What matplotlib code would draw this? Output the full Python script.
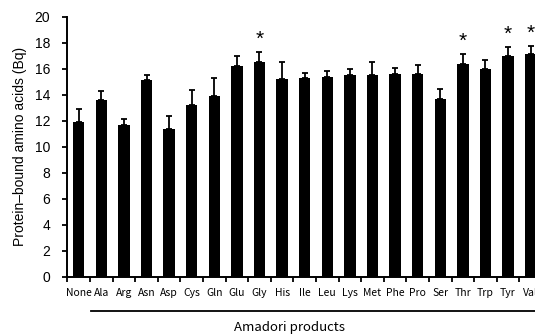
import numpy as np
import matplotlib.pyplot as plt
from matplotlib.transforms import blended_transform_factory

plt.rcParams['font.family'] = ['Noto Sans CJK JP', 'DejaVu Sans']

# data
labels = ['None', 'Ala', 'Arg', 'Asn', 'Asp', 'Cys', 'Gln', 'Glu', 'Gly', 'His', 'Ile',
          'Leu', 'Lys', 'Met', 'Phe', 'Pro', 'Ser', 'Thr', 'Trp', 'Tyr', 'Val']
means = [11.9, 13.6, 11.7, 15.1, 11.4, 13.2, 13.9, 16.2, 16.5, 15.2, 15.3,
         15.4, 15.5, 15.5, 15.6, 15.6, 13.7, 16.4, 16.0, 17.0, 17.1]
errs = [1.0, 0.7, 0.45, 0.45, 0.95, 1.2, 1.4, 0.75, 0.8, 1.35, 0.35,
        0.4, 0.45, 1.05, 0.45, 0.65, 0.75, 0.75, 0.65, 0.7, 0.65]
signif = ['Gly', 'Thr', 'Tyr', 'Val']

x = np.arange(len(labels))

fig = plt.figure(figsize=(5.35, 3.35), dpi=100)
ax = fig.add_axes([0.126, 0.174, 0.887, 0.776])

ax.bar(x, means, width=0.5, color='black', zorder=2)
# one-sided (upper) error bars
ax.errorbar(x, means, yerr=[np.zeros(len(errs)), errs], fmt='none', ecolor='black',
            elinewidth=1.3, capsize=2.5, capthick=1.3, zorder=1)

for lab, m, e in zip(labels, means, errs):
    if lab in signif:
        ax.text(labels.index(lab), m + e + 0.95, '*', ha='center', va='center',
                fontsize=15, family='Liberation Sans')

ax.set_xlim(-0.5, 20.5)
ax.set_ylim(0, 20)
ax.set_yticks(np.arange(0, 21, 2))
ax.set_yticklabels([str(v) for v in range(0, 21, 2)], family='Liberation Sans', fontsize=10)
ax.set_xticks(x)
ax.set_xticklabels(labels, fontsize=7.5)
ax.set_xticks(np.arange(-0.5, 21, 1), minor=True)
ax.tick_params(axis='x', which='major', length=0, pad=8)
ax.tick_params(axis='x', which='minor', length=3.5, width=1.3, direction='out')
ax.tick_params(axis='y', length=3.5, width=1.3, pad=9)

for s in ['top', 'right']:
    ax.spines[s].set_visible(False)
for s in ['left', 'bottom']:
    ax.spines[s].set_linewidth(1.4)

ax.set_ylabel('Protein\u2013bound amino acids (Bq)', fontsize=10, family='Liberation Sans', labelpad=5)

# bracket line and group label under the Amadori products
trans = blended_transform_factory(ax.transData, ax.transAxes)
ax.plot([0.55, 21], [-0.131, -0.131], color='black', lw=1.3, transform=trans, clip_on=False)
ax.text(9.35, -0.197, 'Amadori products', transform=trans, ha='center', va='center', fontsize=9.5)

fig.savefig('out.png', dpi=100)
